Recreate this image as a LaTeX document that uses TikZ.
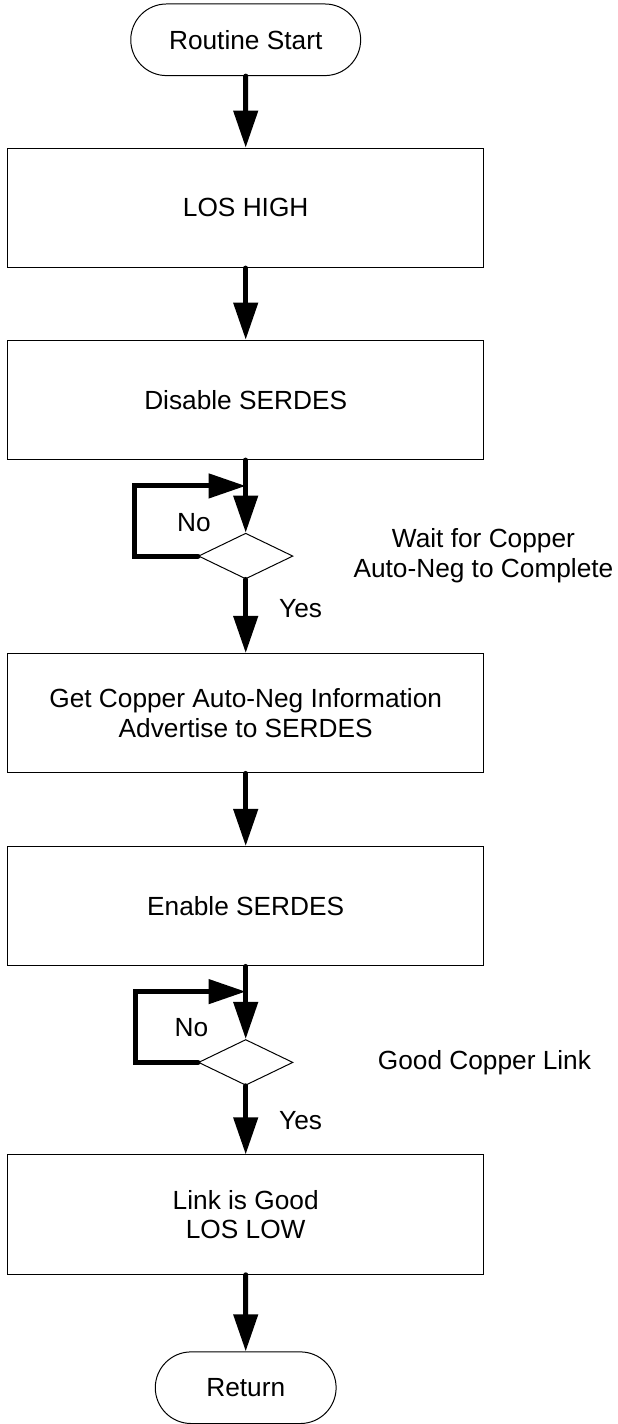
\documentclass[tikz,border=0pt]{standalone}
\usepackage{fontspec}
\setmainfont{Liberation Sans}
\usetikzlibrary{positioning,shapes.misc,shapes.geometric,arrows.meta}

\begin{document}
\begin{tikzpicture}[>={Triangle[length=28pt,width=18pt]},node distance=54pt,
  font=\fontsize{19.8}{22.5}\selectfont,
  terminal/.style={rounded rectangle,draw,line width=0.75pt,minimum width=180pt,minimum height=54pt},
  process/.style={rectangle,draw,line width=0.75pt,minimum width=359pt,minimum height=90pt,align=center},
  decision/.style={diamond,draw,line width=0.75pt,minimum width=71.25pt,minimum height=34.5pt,inner sep=0pt},
  flow/.style={->,line width=3.75pt,line cap=round}]
   \node[terminal] (start) {Routine Start};
   \node[process] (los) [below=of start] {LOS HIGH};
   \node[process] (dis) [below=of los] {Disable SERDES};
   \node[decision] (wait) [below=54.75pt of dis] {};
   \node[process] (adv) [below=55.5pt of wait] {Get Copper Auto-Neg Information\\Advertise to SERDES};
   \node[process] (ena) [below=54.75pt of adv] {Enable SERDES};
   \node[decision] (good) [below=54.75pt of ena] {};
   \node[process] (losl) [below=51.75pt of good] {Link is Good\\LOS LOW};
   \node[terminal,minimum width=143pt] (ret) [below=57.75pt of losl] {Return};
   % text beside the decisions
   \node[align=center] (wait text) at (wait) [xshift=179.25pt] {Wait for Copper\\Auto-Neg to Complete};
   \node (good text) at (good) [xshift=180pt] {Good Copper Link};
   \node (no1) at (wait.west) [xshift=-3pt,yshift=25.5pt] {No};
   \node (no2) at (good.west) [xshift=-5pt,yshift=26pt] {No};
   % loop corners
   \coordinate[below=19.5pt of dis.south] (j1);
   \coordinate[left=84pt of j1] (c1);
   \coordinate[below=19pt of ena.south] (j2);
   \coordinate[left=83pt of j2] (c2);
    \draw[flow] (start) -- (los);
    \draw[flow] (los) -- (dis);
    \draw[flow] (dis) -- (wait);
    \draw[flow] (wait.west) -| (c1) -- (j1);
    \draw[flow] (wait) -- node[right=20pt,pos=0.4] {Yes} (adv);
    \draw[flow] (adv) -- (ena);
    \draw[flow] (ena) -- (good);
    \draw[flow] (good.west) -| (c2) -- (j2);
    \draw[flow] (good) -- node[right=20pt] {Yes} (losl);
    \draw[flow] (losl) -- (ret);
   \useasboundingbox ([xshift=-185.25pt,yshift=30pt]start.center) rectangle ++(465pt,-1068pt);
\end{tikzpicture}
\end{document}
